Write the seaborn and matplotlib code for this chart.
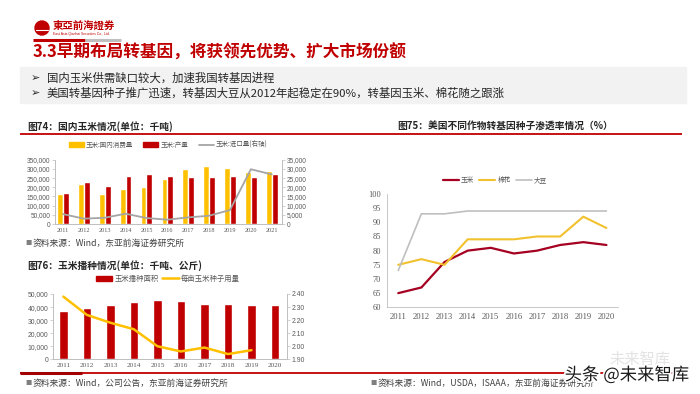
import numpy as np
import pandas as pd
import seaborn as sns
import matplotlib
matplotlib.use("Agg")
import matplotlib.pyplot as plt
from matplotlib.lines import Line2D
from matplotlib.patches import Patch, Rectangle, Ellipse
import matplotlib.patheffects as pe

# ---------------- data ----------------
years74 = [2011, 2012, 2013, 2014, 2015, 2016, 2017, 2018, 2019, 2020, 2021]
consumption74 = [164000, 220000, 164000, 188000, 200000, 244000, 300000, 316000, 305000, 285000, 291000]
production74 = [168000, 229000, 206000, 262000, 271000, 262000, 258000, 258000, 262000, 258000, 271000]
imports74 = [5400, 2900, 3400, 5600, 3250, 2350, 3600, 4500, 7600, 29800, 27000]
series74 = ["玉米:国内消费量", "玉米:产量", "玉米:进口量(右轴)"]

years76 = [2011, 2012, 2013, 2014, 2015, 2016, 2017, 2018, 2019, 2020]
area76 = [37000, 39500, 41800, 43500, 45300, 44600, 42600, 42400, 41800, 41800]
seed76 = [2.38, 2.24, 2.18, 2.13, 2.00, 1.96, 1.99, 1.94, 1.97]
series76 = ["玉米播种面积", "每亩玉米种子用量"]

years75 = [2011, 2012, 2013, 2014, 2015, 2016, 2017, 2018, 2019, 2020]
corn75 = [65, 67, 76, 80, 81, 79, 80, 82, 83, 82]
cotton75 = [75, 77, 75, 84, 84, 84, 85, 85, 92, 88]
soy75 = [73, 93, 93, 94, 94, 94, 94, 94, 94, 94]
series75 = ["玉米", "棉花", "大豆"]

ticks74_left = [0, 50000, 100000, 150000, 200000, 250000, 300000, 350000]
ticks74_right = [0, 5000, 10000, 15000, 20000, 25000, 30000, 35000]
ticks76_left = [0, 10000, 20000, 30000, 40000, 50000]
ticks76_right = [1.90, 2.00, 2.10, 2.20, 2.30, 2.40]
ticks75_y = [60, 65, 70, 75, 80, 85, 90, 95, 100]

title_main = "3.3早期布局转基因，将获领先优势、扩大市场份额"
bullets = ["国内玉米供需缺口较大，加速我国转基因进程",
           "美国转基因种子推广迅速，转基因大豆从2012年起稳定在90%，转基因玉米、棉花随之跟涨"]
title74 = "图74：国内玉米情况(单位：千吨)"
title75 = "图75：美国不同作物转基因种子渗透率情况（%）"
title76 = "图76：玉米播种情况(单位：千吨、公斤)"
src74 = "资料来源：Wind，东亚前海证券研究所"
src76 = "资料来源：Wind，公司公告，东亚前海证券研究所"
src75 = "资料来源：Wind，USDA，ISAAA，东亚前海证券研究所"

# ---------------- style ----------------
sns.set_style("white")
plt.rcParams["font.family"] = ["Noto Sans CJK SC", "DejaVu Sans"]

RED = "#C00000"
YEL = "#FFC000"
GRY = "#A5A5A5"
SPINE = "#BFBFBF"
TXT = "#595959"
SERIF = ["Liberation Serif", "DejaVu Serif"]
SANS = ["Liberation Sans", "DejaVu Sans"]

W, H = 700, 394
fig = plt.figure(figsize=(7, 3.94), dpi=100)
fig.patch.set_facecolor("white")


def fx(x):
    return x / W


def fy(y):
    return 1 - y / H


def rect(l, t, r, b):
    return [fx(l), fy(b), (r - l) / W, (b - t) / H]


def hline(x0, x1, y, color, lw):
    fig.add_artist(Line2D([fx(x0), fx(x1)], [fy(y), fy(y)], color=color, lw=lw,
                          transform=fig.transFigure, solid_capstyle="butt"))


# ---------------- header ----------------
fig.add_artist(Ellipse((fx(42), fy(28)), 14 / W, 14 / H, color=RED, transform=fig.transFigure))
fig.add_artist(Line2D([fx(36), fx(48)], [fy(30), fy(30)], color="white", lw=0.8, transform=fig.transFigure))
fig.text(fx(53), fy(26), "東亞前海證券", color=RED, fontsize=7.5, fontweight="bold", va="center", ha="left")
fig.text(fx(53), fy(33.5), "East Asia Qianhai Securities Co., Ltd.", color=RED, fontsize=2.4,
         va="center", ha="left", family=SANS)
hline(33, 85, 39.5, RED, 2.2)
hline(85, 121, 39.5, "#BFBFBF", 2.2)
fig.text(fx(33), fy(53), title_main, color=RED, fontsize=12, fontweight="bold", va="center", ha="left")

fig.add_artist(Rectangle((fx(20), fy(103)), (686 - 20) / W, 36 / H, color="#F2F2F2",
                         transform=fig.transFigure, zorder=0))
for yy, txt in zip([78, 93], bullets):
    fig.text(fx(31), fy(yy), "➢", fontsize=8, family=["DejaVu Sans"], va="center", ha="left", color="#262626")
    fig.text(fx(47), fy(yy), txt, fontsize=8.2, va="center", ha="left", color="#262626")

# section titles & rules
fig.text(fx(27), fy(127), title74, fontsize=7, fontweight="bold", va="center", ha="left", color="#262626")
fig.text(fx(397), fy(127), title75, fontsize=7, fontweight="bold", va="center", ha="left", color="#262626")
fig.text(fx(27), fy(266), title76, fontsize=7, fontweight="bold", va="center", ha="left", color="#262626")
hline(20, 682, 134, RED, 1.3)
hline(20, 684, 373, RED, 1.3)
hline(20, 82, 373, "#A00000", 2.2)

for xs, ys, txt in [(25, 243, src74), (25, 383, src76), (370, 383, src75)]:
    fig.text(fx(xs), fy(ys), "■", fontsize=4.5, color="#7F7F7F", va="center", ha="left")
    fig.text(fx(xs + 8), fy(ys), txt, fontsize=6.3, style="italic", color="#404040", va="center", ha="left")

# ---------------- chart 74 ----------------
ax74 = fig.add_axes(rect(55, 159.7, 282, 224))
n74 = len(years74)
df74 = pd.DataFrame({
    "年份": years74 * 2,
    "系列": [series74[0]] * n74 + [series74[1]] * n74,
    "数值": consumption74 + production74,
})
sns.barplot(data=df74, x="年份", y="数值", hue="系列", hue_order=series74[:2],
            palette=[YEL, RED], native_scale=True, width=0.56, saturation=1,
            errorbar=None, legend=False, ax=ax74)
ax74b = ax74.twinx()
sns.lineplot(x=years74, y=imports74, color=GRY, lw=1.3, ax=ax74b)
ax74.set_xlim(2010.62, 2021.49)
ax74.set_ylim(0, 350000)
ax74b.set_ylim(0, 35000)
ax74.set_xticks(years74, labels=[str(y) for y in years74], fontsize=4.4, family=SERIF, color=TXT)
ax74.set_yticks(ticks74_left, labels=[f"{v:,}" for v in ticks74_left], fontsize=4.7, family=SANS, color=TXT)
ax74b.set_yticks(ticks74_right, labels=[f"{v:,}" for v in ticks74_right], fontsize=4.7, family=SANS, color=TXT)

# ---------------- chart 76 ----------------
ax76 = fig.add_axes(rect(53, 294, 287, 359.3))
sns.barplot(x=years76, y=area76, color=RED, native_scale=True, width=0.36, saturation=1,
            errorbar=None, ax=ax76)
ax76b = ax76.twinx()
sns.lineplot(x=years76[:len(seed76)], y=seed76, color=YEL, lw=1.8, ax=ax76b)
ax76.set_xlim(2010.56, 2020.51)
ax76.set_ylim(0, 50000)
ax76b.set_ylim(1.90, 2.40)
ax76.set_xticks(years76, labels=[str(y) for y in years76], fontsize=5.2, family=SERIF, color=TXT)
ax76.set_yticks(ticks76_left, labels=[f"{v:,}" for v in ticks76_left], fontsize=4.9, family=SANS, color=TXT)
ax76b.set_yticks(ticks76_right, labels=[f"{v:.2f}" for v in ticks76_right], fontsize=4.9, family=SANS, color=TXT)

for a in (ax74, ax74b, ax76, ax76b):
    a.set_xlabel("")
    a.set_ylabel("")
    a.spines["top"].set_visible(False)
    for s in ("left", "right", "bottom"):
        a.spines[s].set_color(SPINE)
        a.spines[s].set_linewidth(0.6)
    a.tick_params(axis="y", length=2, width=0.5, color=SPINE, pad=1.5)
    a.tick_params(axis="x", length=0, pad=3)
    a.set_facecolor("none")

# ---------------- chart 75 ----------------
ax75 = fig.add_axes(rect(386.7, 194, 618, 307.3))
n75 = len(years75)
df75 = pd.DataFrame({
    "年份": years75 * 3,
    "作物": [series75[0]] * n75 + [series75[1]] * n75 + [series75[2]] * n75,
    "渗透率": corn75 + cotton75 + soy75,
})
pal75 = {series75[0]: "#A50021", series75[1]: "#F2C12E", series75[2]: "#BFBFBF"}
lw75 = {series75[0]: 1.6, series75[1]: 1.5, series75[2]: 1.2}
for s in series75:
    sns.lineplot(data=df75[df75["作物"] == s], x="年份", y="渗透率", color=pal75[s],
                 lw=lw75[s], ax=ax75, legend=False)
ax75.set_xlim(2010.5, 2020.5)
ax75.set_ylim(60, 100)
ax75.set_xticks(years75, labels=[str(y) for y in years75], fontsize=6.2, family=SERIF, color=TXT)
ax75.set_yticks(ticks75_y, labels=[str(v) for v in ticks75_y], fontsize=6, family=SERIF, color=TXT)
ax75.set_xlabel("")
ax75.set_ylabel("")
for s in ("top", "right"):
    ax75.spines[s].set_visible(False)
for s in ("left", "bottom"):
    ax75.spines[s].set_color(SPINE)
    ax75.spines[s].set_linewidth(0.6)
ax75.tick_params(axis="y", length=2, width=0.5, color=SPINE, pad=2)
ax75.tick_params(axis="x", length=0, pad=4)

# ---------------- legends ----------------
h74 = [Patch(color=YEL), Patch(color=RED), Line2D([], [], color=GRY, lw=1.3)]
fig.legend(h74, series74, loc="center", bbox_to_anchor=(fx(168), fy(145)), ncol=3, frameon=False,
           fontsize=4.7, handlelength=2.3, handleheight=0.8, handletextpad=0.3, columnspacing=1.6,
           labelcolor=TXT)
h76 = [Patch(color=RED), Line2D([], [], color=YEL, lw=1.8)]
fig.legend(h76, series76, loc="center", bbox_to_anchor=(fx(168), fy(279)), ncol=2, frameon=False,
           fontsize=5.3, handlelength=2.2, handleheight=0.8, handletextpad=0.3, columnspacing=0.5,
           labelcolor=TXT)
h75 = [Line2D([], [], color=pal75[s], lw=lw75[s]) for s in series75]
fig.legend(h75, series75, loc="center", bbox_to_anchor=(fx(495), fy(180)), ncol=3, frameon=False,
           fontsize=4.8, handlelength=2.4, handletextpad=0.3, columnspacing=0.8, labelcolor=TXT)

# ---------------- watermark ----------------
fig.text(fx(640), fy(359), "未来智库", fontsize=11, color="#E3E3E3", ha="center", va="center")
fig.text(fx(627), fy(375), "头条 @未来智库", fontsize=12.5, color="#1A1A1A", ha="center", va="center",
         path_effects=[pe.withStroke(linewidth=2.5, foreground="white")])

fig.savefig("out.png", dpi=100, facecolor="white")
